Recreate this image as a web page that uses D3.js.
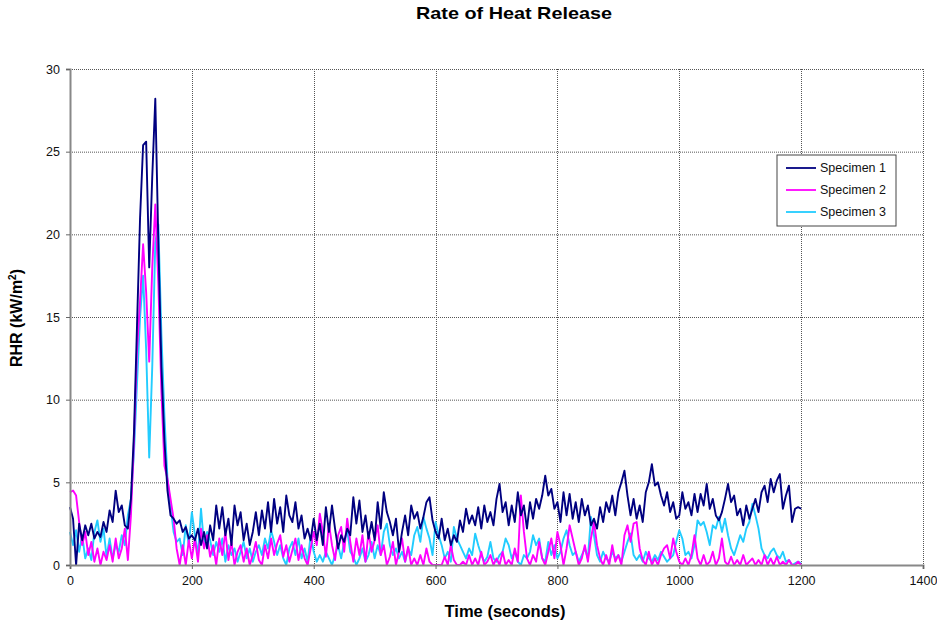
<!DOCTYPE html>
<html><head><meta charset="utf-8">
<script src="https://cdn.jsdelivr.net/npm/d3@7"></script>
<style>
body{margin:0;background:#fff;}
svg text{font-family:"Liberation Sans",Arial,sans-serif;}
</style></head>
<body><svg id="c" width="937" height="623"></svg>
<script>
const title = "Rate of Heat Release";
const xLabel = "Time (seconds)";
const seriesNames = ["Specimen 1","Specimen 2","Specimen 3"];
const seriesColors = ["#000080","#ff00ff","#22ccff"];
const xTicks = [0,200,400,600,800,1000,1200,1400];
const yTicks = [0,5,10,15,20,25,30];
const timeStep = 5; // seconds between samples, starting at 0
const specimen1 = [
3.5,2.8,0.0,2.5,1.5,2.4,1.8,2.5,1.6,2.0, 1.7,2.6,2.0,3.3,2.6,4.5,3.2,3.6,2.4,2.2,
4.0,8.0,14.5,21.0,25.4,25.6,18.0,23.5,28.2,19.5, 12.0,7.5,4.5,3.0,2.8,2.5,2.7,2.0,2.3,1.6, 1.8,
1.5,2.2,1.2,2.0,1.0,2.4,1.5,3.6,2.2,3.5, 1.8,2.8,1.2,3.6,2.4,3.2,1.5,2.5,1.2,2.0,
3.2,1.8,3.3,2.2,3.8,2.0,4.0,2.5,3.5,2.0, 4.2,3.0,2.6,3.8,2.2,3.0,1.6,2.2,1.5,2.8,
1.5,2.5,1.2,3.5,2.0,3.6,2.2,1.0,1.8,1.4, 2.2,1.8,4.1,2.5,3.9,2.0,3.0,1.6,2.6,1.5,
3.8,2.2,4.4,3.2,2.6,1.8,2.8,0.8,2.0,3.0, 1.8,3.6,2.8,3.2,2.2,2.9,3.8,4.1,2.7,2.0,
1.6,2.8,1.5,2.2,1.2,1.8,1.4,2.7,2.0,3.4, 2.5,3.0,2.4,3.5,2.2,3.6,2.6,3.2,2.4,4.0,
4.9,3.2,3.8,2.4,3.6,2.6,4.4,3.0,3.6,2.2, 3.8,2.8,4.0,3.4,4.2,5.4,4.2,4.6,3.4,3.8,
2.6,4.4,3.0,4.3,2.8,3.8,2.6,4.0,3.0,3.6, 2.4,2.8,2.2,3.5,2.6,3.8,3.2,4.2,3.0,4.4,
5.0,5.7,4.2,3.0,4.0,2.8,3.6,2.6,4.4,5.0, 6.1,4.8,5.0,4.2,3.6,4.4,3.2,3.8,2.8,3.0,
4.4,3.4,3.8,3.0,4.3,3.2,4.3,3.6,4.9,3.4, 4.0,3.0,2.7,3.2,4.0,4.9,3.8,4.2,3.0,3.4,
2.4,3.6,2.8,3.4,4.0,3.2,4.4,4.8,3.8,5.2, 4.4,5.1,5.5,3.4,4.2,4.8,2.6,3.4,3.5,3.4
];
const specimen2 = [
4.4,4.5,4.2,2.6,1.2,2.0,0.6,1.4,0.2,1.0, 0.0,0.8,0.3,1.2,0.2,1.6,0.4,1.0,2.2,0.3,
3.0,7.5,13.0,16.0,19.4,16.5,12.3,18.0,21.8,17.0, 10.5,6.0,5.2,4.0,2.8,1.0,0.0,1.2,0.0,1.5, 0.4,
1.6,0.2,2.2,1.0,1.8,0.5,1.2,0.0,1.6,0.6, 2.0,0.3,1.4,0.0,0.8,1.2,0.2,1.0,0.0,0.6,
1.4,0.3,0.0,1.2,0.4,1.6,0.6,1.3,1.8,0.5, 1.2,0.2,0.9,1.6,0.3,1.2,0.4,0.0,1.0,2.0,
1.2,3.1,2.0,0.5,2.5,1.2,0.3,1.8,2.3,0.8, 2.8,1.4,0.2,1.6,0.6,1.8,0.2,2.0,0.8,1.5,
2.4,0.6,1.2,0.0,0.5,1.4,0.0,0.8,1.6,0.2, 1.1,0.0,0.4,0.0,0.6,0.0,1.0,0.2,0.0,0.0,
0.0,0.0,0.5,0.0,1.2,0.3,0.0,0.0,0.2,0.0, 0.6,0.0,0.4,0.0,0.8,0.0,0.2,0.6,0.0,0.4,
0.0,0.8,0.0,0.3,0.0,1.0,0.2,4.2,2.0,0.4, 0.0,0.6,0.2,1.4,0.4,0.0,0.8,1.6,0.4,2.0,
1.2,0.0,1.0,2.4,1.6,0.8,0.0,0.4,1.2,0.2, 1.6,2.6,1.2,0.4,0.0,0.6,0.0,1.2,0.2,0.6,
0.0,1.8,2.4,1.4,2.5,2.6,1.0,0.3,0.0,0.8, 0.0,0.4,0.0,0.6,1.0,1.2,0.4,1.6,0.8,0.2,
0.0,0.4,0.0,0.6,1.8,0.4,0.0,0.6,0.0,0.2, 0.8,0.0,0.4,1.6,0.2,0.0,0.5,0.0,0.3,0.0,
0.6,0.0,0.2,0.4,0.0,0.3,0.0,0.6,0.0,0.4, 0.0,0.5,0.0,0.2,0.0,0.3,0.0,0.0,0.2,0.0
];
const specimen3 = [
2.0,1.2,2.1,0.8,1.8,0.4,1.0,0.3,2.0,2.7, 1.4,2.2,0.5,1.6,0.4,1.2,0.8,1.8,1.2,3.0,
4.0,6.8,11.0,15.0,17.5,13.0,6.5,12.0,19.5,20.6, 14.0,9.0,5.2,3.6,2.0,1.4,1.6,0.6,2.4,1.2, 3.2,
1.8,0.6,3.4,1.2,2.0,1.5,0.6,1.4,0.8,1.6, 0.2,1.2,0.6,1.0,0.2,0.8,1.4,0.4,1.0,0.2,
0.8,1.2,0.6,1.6,1.0,2.1,1.4,0.6,1.2,0.4, 0.0,1.0,1.4,0.6,1.6,0.4,1.0,0.2,1.8,0.8,
0.2,0.6,0.2,0.8,0.4,0.0,0.6,1.2,0.4,1.4, 2.1,0.8,0.5,0.0,0.4,1.0,0.2,0.6,1.4,0.4,
1.2,0.6,2.0,2.5,1.2,0.6,1.0,0.4,0.8,0.2, 1.0,0.6,1.8,2.3,1.4,2.9,2.2,1.6,0.6,2.6,
1.8,1.2,0.4,0.8,0.2,2.3,1.6,1.2,0.8,0.4, 1.0,0.6,1.9,1.2,0.6,0.2,0.5,1.4,0.4,0.2,
0.6,0.8,1.6,1.2,0.4,0.8,0.2,0.0,0.6,0.4, 0.8,1.8,1.2,1.6,0.4,0.2,1.4,0.6,1.2,0.4,
0.8,1.6,2.1,1.2,0.6,0.8,0.2,0.6,1.0,0.4, 2.9,1.8,0.6,0.2,0.8,0.4,0.2,0.8,0.4,0.6,
0.2,0.8,1.4,1.9,0.6,0.3,0.6,0.2,0.8,0.4, 0.2,0.6,0.3,0.8,0.5,0.2,0.4,0.6,1.4,2.1,
1.6,0.6,0.8,0.4,1.2,2.7,2.4,2.6,2.0,1.2, 2.4,2.2,2.9,2.0,2.8,1.8,1.0,0.6,1.2,1.8,
1.4,2.2,2.6,3.7,3.0,2.2,1.0,0.6,0.4,0.8, 1.0,0.6,0.4,0.8,0.2,0.3,0.0,0.1,0.2,0.1
];
const allSeries = [specimen1, specimen2, specimen3];

const svg = d3.select("#c");
const L=70, R=923, T=69, B=565;
const x = d3.scaleLinear().domain([0,1400]).range([L,R]);
const y = d3.scaleLinear().domain([0,30]).range([B,T]);

// gridlines
const grid = svg.append("g");
grid.selectAll(".h").data(yTicks.filter(d=>d>0)).join("line")
  .attr("x1",L).attr("x2",R).attr("y1",d=>y(d)+0.5).attr("y2",d=>y(d)+0.5)
  .attr("stroke","#555").attr("stroke-width",1).attr("stroke-dasharray","1,1");
grid.selectAll(".v").data(xTicks.filter(d=>d>0)).join("line")
  .attr("y1",T).attr("y2",B).attr("x1",d=>Math.round(x(d))+0.5).attr("x2",d=>Math.round(x(d))+0.5)
  .attr("stroke","#555").attr("stroke-width",1).attr("stroke-dasharray","1,1");

// lines
const line = d3.line().x((d,i)=>x(i*timeStep)).y(d=>y(d));
const order = [2,1,0];
order.forEach(k=>{
  svg.append("path").datum(allSeries[k]).attr("d",line)
    .attr("fill","none").attr("stroke",seriesColors[k]).attr("stroke-width",1.9)
    .attr("stroke-linejoin","round");
});

// axes
const xAxis = svg.append("g").attr("transform",`translate(0,${B})`)
  .call(d3.axisBottom(x).tickValues(xTicks).tickSize(4).tickPadding(7).tickFormat(d3.format("d")));
const yAxis = svg.append("g").attr("transform",`translate(${L},0)`)
  .call(d3.axisLeft(y).tickValues(yTicks).tickSize(4).tickPadding(6));
[xAxis,yAxis].forEach(a=>{
  a.select(".domain").attr("stroke","#888").attr("stroke-width",2);
  a.selectAll(".tick line").attr("stroke","#666");
  a.selectAll("text").attr("font-size",12.5).attr("fill","#111")
   .style("font-family","'Liberation Sans',Arial,sans-serif");
});

// title & labels
svg.append("text").attr("x",514).attr("y",19).attr("text-anchor","middle")
  .attr("font-size",17).attr("font-weight","bold")
  .attr("textLength",196).attr("lengthAdjust","spacingAndGlyphs").text(title);
svg.append("text").attr("x",505).attr("y",617).attr("text-anchor","middle")
  .attr("font-size",16).attr("font-weight","bold")
  .attr("textLength",121).attr("lengthAdjust","spacingAndGlyphs").text(xLabel);
const yl = svg.append("text").attr("transform","translate(22,318) rotate(-90)")
  .attr("text-anchor","middle").attr("font-size",16).attr("font-weight","bold");
yl.append("tspan").text("RHR (kW/m");
yl.append("tspan").attr("font-size",10).attr("dy",-6).text("2");
yl.append("tspan").attr("dy",6).text(")");

// legend
const lg = svg.append("g").attr("transform","translate(777,155)");
lg.append("rect").attr("width",119).attr("height",71).attr("fill","#fff")
  .attr("stroke","#444").attr("stroke-width",1);
seriesNames.forEach((n,i)=>{
  const yy = 13 + i*22;
  lg.append("line").attr("x1",9).attr("x2",39).attr("y1",yy).attr("y2",yy)
    .attr("stroke",seriesColors[i]).attr("stroke-width",1.8);
  lg.append("text").attr("x",43).attr("y",yy+4).attr("font-size",12).attr("fill","#111")
    .attr("textLength",66).attr("lengthAdjust","spacingAndGlyphs").text(n);
});
</script></body></html>
